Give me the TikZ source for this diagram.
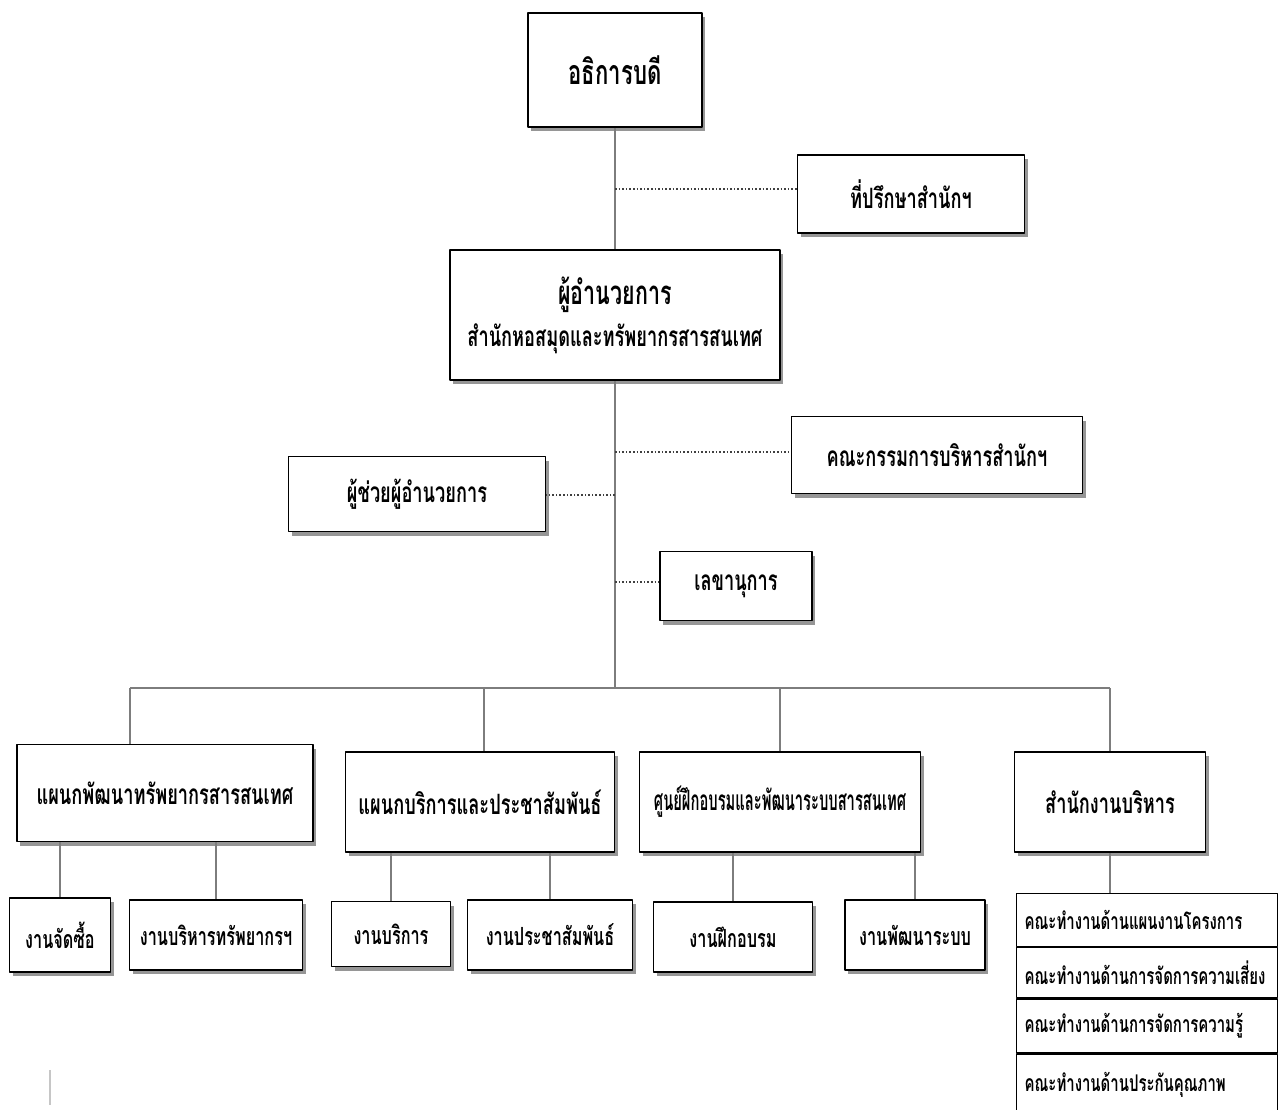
\documentclass[tikz,border=0pt]{standalone}
\usepackage{fontspec}
\newfontfamily\thaifont[Script=Thai,FakeStretch=0.65]{Loma}
\usetikzlibrary{shadows}
\definecolor{linkgray}{RGB}{125,125,125}
\definecolor{shadowgray}{RGB}{150,150,150}
\begin{document}
\begin{tikzpicture}[
  x=1pt,
  y=-1pt,
  line join=round,
  unit/.style={draw=black,line width=1.6pt,fill=white,inner sep=2pt,align=center,
    font=\thaifont\bfseries\fontsize{28}{40}\selectfont,
    drop shadow={shadow xshift=3pt,shadow yshift=-4pt,fill=shadowgray,opacity=1}},
  subunit/.style={unit,font=\thaifont\bfseries\fontsize{25}{30}\selectfont},
  wgrow/.style={draw=black,line width=1.2pt,anchor=north west,minimum width=261pt,
    text width=245pt,align=left,inner xsep=8pt,
    font=\thaifont\bfseries\fontsize{23}{28}\selectfont},
  link/.style={draw=linkgray,line width=1.6pt},
  dotlink/.style={draw=black!75,line width=1.6pt,dotted}
]
  \useasboundingbox (0,0) rectangle (1279,1110);

  % Top of the chart and the boxes hung off the spine.
  \node[unit,minimum width=174pt,minimum height=114pt,font=\thaifont\bfseries\fontsize{34}{40}\selectfont]
    (rector) at (615,70) {อธิการบดี};
  \node[unit,minimum width=227pt,minimum height=78pt] (advisor) at (911,194) {ที่ปรึกษาสำนักฯ};
  \node[unit,minimum width=330pt,minimum height=130pt] (director) at (615,315)
    {{\fontsize{33}{40}\selectfont ผู้อำนวยการ}\\[2pt]สำนักหอสมุดและทรัพยากรสารสนเทศ};
  \node[unit,minimum width=291pt,minimum height=77pt] (board) at (937,455) {คณะกรรมการบริหารสำนักฯ};
  \node[unit,minimum width=257pt,minimum height=75pt] (assistant) at (417,494) {ผู้ช่วยผู้อำนวยการ};
  \node[unit,minimum width=152pt,minimum height=69pt] (secretary) at (736,586) {เลขานุการ};

  % Points on the spine and on the bus.
  \coordinate (s1) at (615,189);
  \coordinate (s2) at (615,452);
  \coordinate (s3) at (615,495);
  \coordinate (s4) at (615,582);
  \coordinate (bus) at (615,688);
  \coordinate (busL) at (130,688);
  \coordinate (busR) at (1110,688);

  % Departments.
  \node[unit,minimum width=296pt,minimum height=97pt] (deptres) at (165,793) {แผนกพัฒนาทรัพยากรสารสนเทศ};
  \node[unit,minimum width=269pt,minimum height=100pt] (deptsvc) at (480,802) {แผนกบริการและประชาสัมพันธ์};
  \node[unit,minimum width=281pt,minimum height=100pt] (center) at (780,802)
    {\scalebox{0.81}[1]{ศูนย์ฝึกอบรมและพัฒนาระบบสารสนเทศ}};
  \node[unit,minimum width=191pt,minimum height=100pt] (office) at (1110,802) {สำนักงานบริหาร};

  % Sections under the departments.
  \node[subunit,minimum width=101pt,minimum height=74pt] (purchase) at (60,935) {งานจัดซื้อ};
  \node[subunit,minimum width=173pt,minimum height=70pt] (resmgmt) at (216,935) {งานบริหารทรัพยากรฯ};
  \node[subunit,minimum width=119pt,minimum height=65pt] (service) at (391,934) {งานบริการ};
  \node[subunit,minimum width=165pt,minimum height=70pt] (pr) at (550,935) {งานประชาสัมพันธ์};
  \node[subunit,minimum width=159pt,minimum height=70pt] (training) at (733,937) {งานฝึกอบรม};
  \node[subunit,minimum width=140pt,minimum height=70pt] (sysdev) at (915,935) {งานพัฒนาระบบ};

  % Working groups of the office, stacked.
  \node[wgrow,minimum height=53pt] (wg1) at (1016,893) {คณะทำงานด้านแผนงานโครงการ};
  \node[wgrow,minimum height=50pt] (wg2) at (wg1.south west) {คณะทำงานด้านการจัดการความเสี่ยง};
  \node[wgrow,minimum height=54pt] (wg3) at (wg2.south west) {คณะทำงานด้านการจัดการความรู้};
  \node[wgrow,minimum height=62pt] (wg4) at (wg3.south west) {คณะทำงานด้านประกันคุณภาพ};

  % Solid lines of command.
  \draw[link] (rector) -- (director);
  \draw[link] (director) -- (bus);
  \draw[link] (busL) -- (busR);
  \draw[link] (busL) -- (busL |- deptres.north);
  \draw[link] (deptsvc.north -| 484,0) -- (484,688);
  \draw[link] (center.north) -- (center.north |- bus);
  \draw[link] (busR) -- (office.north);
  \foreach \sub/\up in {purchase/deptres,resmgmt/deptres,service/deptsvc,pr/deptsvc,training/center,sysdev/center}
    \draw[link] (\sub.north) -- (\sub.north |- \up.south);
  \draw[link] (office.south) -- (wg1.north -| office.south);

  % Dotted lines to the staff boxes.
  \draw[dotlink] (s1) -- (s1 -| advisor.west);
  \draw[dotlink] (s2) -- (s2 -| board.west);
  \draw[dotlink] (s3) -- (s3 -| assistant.east);
  \draw[dotlink] (s4) -- (s4 -| secretary.west);

  % Stray mark at the bottom left.
  \draw[gray!45,line width=1.5pt] (50,1070) -- (50,1105);
\end{tikzpicture}
\end{document}
